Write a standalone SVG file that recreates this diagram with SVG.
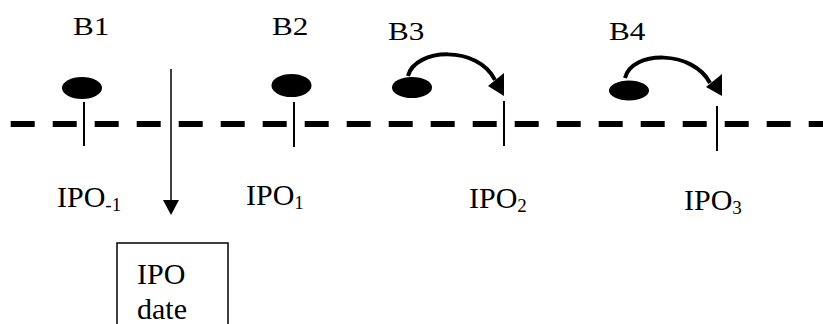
<svg xmlns="http://www.w3.org/2000/svg" width="823" height="324" viewBox="0 0 823 324">
<style>
  .tick { stroke: #000; stroke-width: 2; fill: none; }
  .dot { fill: #000; }
  .arc { stroke: #000; stroke-width: 4; fill: none; }
</style>
<rect width="823" height="324" fill="#fff"/>
<g id="connectors">
  <line x1="10.7" y1="124" x2="823" y2="124" stroke="#000" stroke-width="6" stroke-dasharray="24 18"/>
  <line x1="171" y1="69" x2="171" y2="202" stroke="#000" stroke-width="1.5"/>
  <polygon points="163,200 179,200 171,215" fill="#000"/>
  <path class="arc" d="M408,76 C415,48 478,45 495,80"/>
  <polygon points="488,86 504,73 504,96" fill="#000"/>
  <path class="arc" d="M625,78 C632,50 693,50 710,83"/>
  <polygon points="706,87 722,74 722,96" fill="#000"/>
</g>
<g id="B1">
  <text font-family="Liberation Serif, serif" font-size="26" transform="translate(73,35) scale(1.2,1)">B1</text>
  <ellipse class="dot" cx="82" cy="88" rx="20" ry="11"/>
  <line class="tick" x1="84" y1="102" x2="84" y2="146"/>
  <text font-family="Liberation Serif, serif" font-size="30" x="57" y="207">IPO<tspan font-size="19" dy="4">-1</tspan></text>
</g>
<g id="B2">
  <text font-family="Liberation Serif, serif" font-size="26" transform="translate(272,35) scale(1.2,1)">B2</text>
  <ellipse class="dot" cx="291.5" cy="85.5" rx="20" ry="11.5"/>
  <line class="tick" x1="294" y1="102" x2="294" y2="147"/>
  <text font-family="Liberation Serif, serif" font-size="30" x="246" y="205">IPO<tspan font-size="19" dy="4">1</tspan></text>
</g>
<g id="B3">
  <text font-family="Liberation Serif, serif" font-size="26" transform="translate(388,40) scale(1.2,1)">B3</text>
  <ellipse class="dot" cx="412" cy="87.5" rx="20" ry="10.5"/>
  <line class="tick" x1="504" y1="101" x2="504" y2="146"/>
  <text font-family="Liberation Serif, serif" font-size="30" x="469" y="208">IPO<tspan font-size="19" dy="4">2</tspan></text>
</g>
<g id="B4">
  <text font-family="Liberation Serif, serif" font-size="26" transform="translate(609,40) scale(1.2,1)">B4</text>
  <ellipse class="dot" cx="629" cy="90.5" rx="20" ry="10"/>
  <line class="tick" x1="717" y1="106" x2="717" y2="151"/>
  <text font-family="Liberation Serif, serif" font-size="30" x="684" y="210">IPO<tspan font-size="19" dy="4">3</tspan></text>
</g>
<g id="ipo-date">
  <rect x="117" y="243" width="111" height="100" fill="none" stroke="#000" stroke-width="1.5"/>
  <text font-family="Liberation Serif, serif" font-size="30" x="137" y="284">IPO</text>
  <text font-family="Liberation Serif, serif" font-size="30" x="137" y="319">date</text>
</g>
</svg>
